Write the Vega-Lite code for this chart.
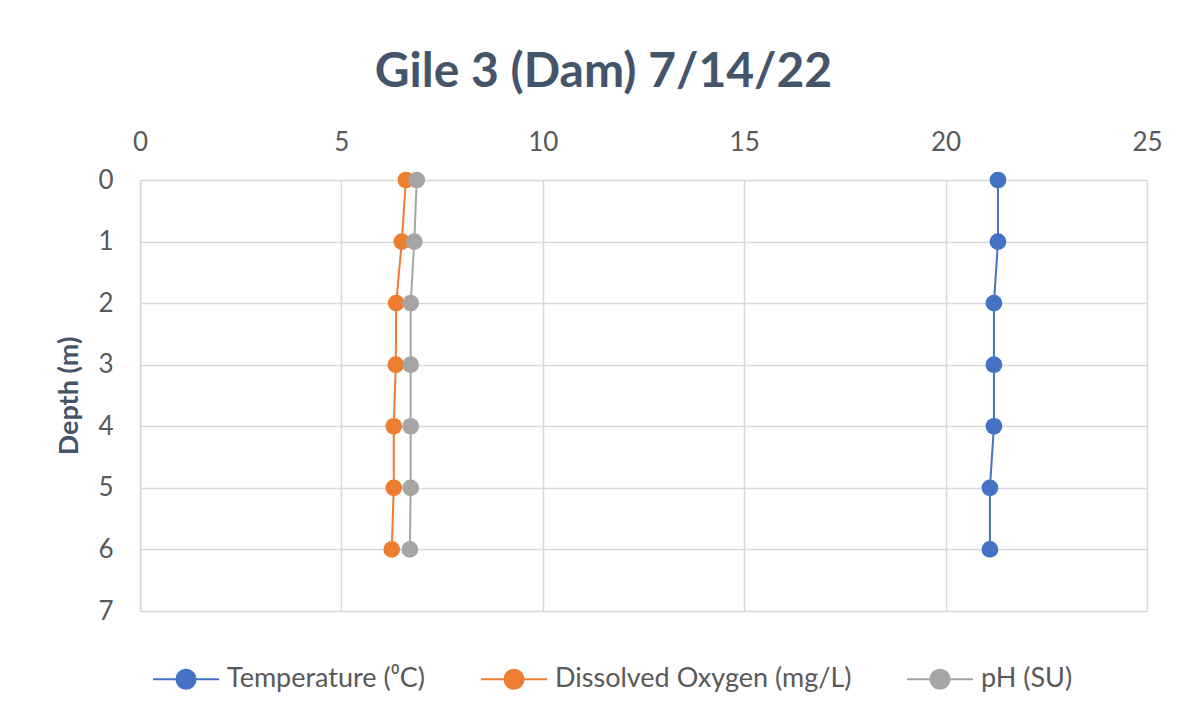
{
  "$schema": "https://vega.github.io/schema/vega-lite/v6.json",
  "width": 1007,
  "height": 431,
  "autosize": {"type": "none"},
  "padding": {"left": 140, "top": 180, "right": 52, "bottom": 110},
  "background": "white",
  "title": {
    "text": "Gile 3 (Dam) 7/14/22",
    "font": "Lato",
    "fontSize": 48,
    "fontWeight": "bold",
    "color": "#44546A",
    "anchor": "middle",
    "dx": -40,
    "offset": 32
  },
  "config": {
    "view": {"stroke": null},
    "font": "Lato"
  },
  "data": {
    "values": [
      {"series": "Temperature (⁰C)", "depth": 0, "value": 21.3},
      {"series": "Temperature (⁰C)", "depth": 1, "value": 21.3},
      {"series": "Temperature (⁰C)", "depth": 2, "value": 21.2},
      {"series": "Temperature (⁰C)", "depth": 3, "value": 21.2},
      {"series": "Temperature (⁰C)", "depth": 4, "value": 21.2},
      {"series": "Temperature (⁰C)", "depth": 5, "value": 21.1},
      {"series": "Temperature (⁰C)", "depth": 6, "value": 21.1},
      {"series": "Dissolved Oxygen (mg/L)", "depth": 0, "value": 6.6},
      {"series": "Dissolved Oxygen (mg/L)", "depth": 1, "value": 6.5},
      {"series": "Dissolved Oxygen (mg/L)", "depth": 2, "value": 6.36},
      {"series": "Dissolved Oxygen (mg/L)", "depth": 3, "value": 6.35},
      {"series": "Dissolved Oxygen (mg/L)", "depth": 4, "value": 6.3},
      {"series": "Dissolved Oxygen (mg/L)", "depth": 5, "value": 6.3},
      {"series": "Dissolved Oxygen (mg/L)", "depth": 6, "value": 6.25},
      {"series": "pH (SU)", "depth": 0, "value": 6.87},
      {"series": "pH (SU)", "depth": 1, "value": 6.81},
      {"series": "pH (SU)", "depth": 2, "value": 6.72},
      {"series": "pH (SU)", "depth": 3, "value": 6.72},
      {"series": "pH (SU)", "depth": 4, "value": 6.72},
      {"series": "pH (SU)", "depth": 5, "value": 6.72},
      {"series": "pH (SU)", "depth": 6, "value": 6.7}
    ]
  },
  "encoding": {
    "x": {
      "field": "value",
      "type": "quantitative",
      "scale": {"domain": [0, 25], "nice": false, "zero": false},
      "axis": {
        "orient": "top",
        "title": null,
        "values": [0, 5, 10, 15, 20, 25],
        "grid": true,
        "gridColor": "#D9D9D9",
        "gridWidth": 1.5,
        "domain": false,
        "ticks": false,
        "labelFlush": false,
        "labelFontSize": 26,
        "labelColor": "#595959",
        "labelPadding": 25,
        "labelFont": "Lato"
      }
    },
    "y": {
      "field": "depth",
      "type": "quantitative",
      "scale": {"domain": [0, 7], "reverse": true, "nice": false},
      "axis": {
        "title": "Depth (m)",
        "titleFont": "Lato",
        "titleFontSize": 27,
        "titleFontWeight": "bold",
        "titleColor": "#44546A",
        "titlePadding": 14,
        "values": [0, 1, 2, 3, 4, 5, 6, 7],
        "grid": true,
        "gridColor": "#D9D9D9",
        "gridWidth": 1.5,
        "domain": true,
        "domainColor": "#D9D9D9",
        "domainWidth": 1.5,
        "ticks": false,
        "labelFlush": false,
        "labelFontSize": 26,
        "labelColor": "#595959",
        "labelPadding": 27,
        "labelFont": "Lato"
      }
    },
    "color": {
      "field": "series",
      "type": "nominal",
      "scale": {
        "domain": ["Temperature (⁰C)", "Dissolved Oxygen (mg/L)", "pH (SU)"],
        "range": ["#4472C4", "#ED7D31", "#A5A5A5"]
      },
      "legend": {
        "orient": "none",
        "legendX": 12,
        "legendY": 465,
        "direction": "horizontal",
        "title": null,
        "symbolType": "M-1,0L1,0M-0.29,0A0.29,0.29 0 1,1 0.29,0A0.29,0.29 0 1,1 -0.29,0Z",
        "symbolSize": 4356,
        "symbolStrokeWidth": 2,
        "symbolOpacity": 1,
        "labelFontSize": 27,
        "labelColor": "#595959",
        "labelFont": "Lato",
        "labelOffset": 7,
        "columnPadding": 51,
        "labelLimit": 400
      }
    },
    "order": {"field": "depth", "type": "quantitative"}
  },
  "layer": [
    {"mark": {"type": "line", "strokeWidth": 2}},
    {"mark": {"type": "point", "filled": true, "size": 280, "opacity": 1}}
  ]
}
